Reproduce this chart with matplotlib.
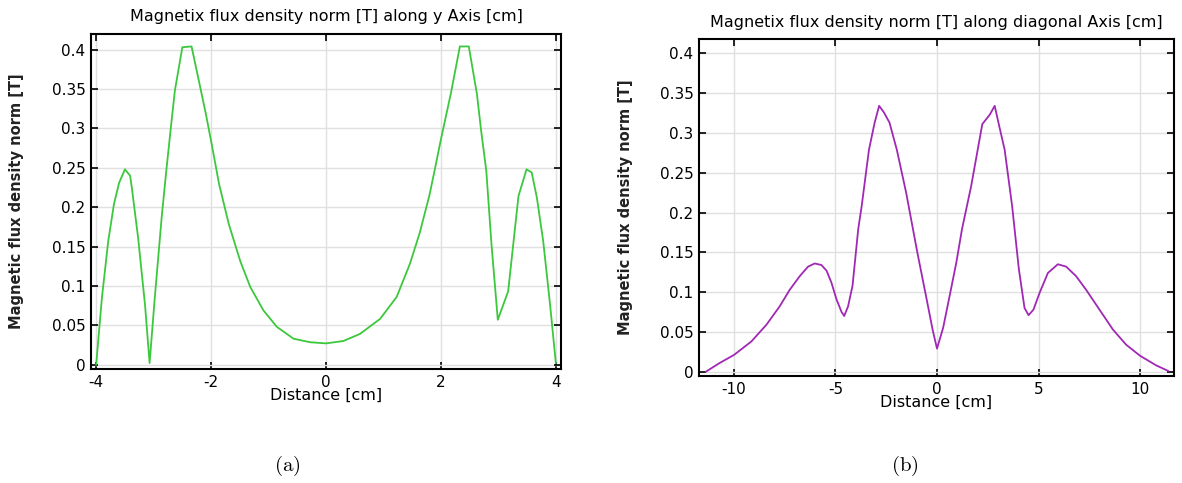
import matplotlib
matplotlib.use("Agg")
import matplotlib.pyplot as plt
import numpy as np

# along y axis (a)
y_dist = [-4.0, -3.90, -3.79, -3.69, -3.60, -3.50, -3.41, -3.38, -3.27, -3.15,
          -3.07, -2.98, -2.86, -2.78, -2.69, -2.63, -2.50, -2.34, -2.20, -2.09,
          -2.0, -1.86, -1.69, -1.49, -1.32, -1.09, -0.855, -0.566, -0.277, 0.0,
          0.30, 0.59, 0.94, 1.23, 1.46, 1.63, 1.80, 1.90, 2.0, 2.175, 2.33,
          2.485, 2.626, 2.70, 2.79, 2.88, 2.99, 3.17, 3.35, 3.49, 3.58,
          3.67, 3.78, 3.90, 4.0]
y_norm = [0.0, 0.085, 0.157, 0.204, 0.231, 0.248, 0.240, 0.225, 0.161, 0.076,
          0.002, 0.085, 0.187, 0.246, 0.308, 0.348, 0.403, 0.404, 0.356, 0.318,
          0.284, 0.229, 0.178, 0.131, 0.099, 0.069, 0.048, 0.033, 0.0285, 0.027,
          0.030, 0.039, 0.058, 0.086, 0.128, 0.167, 0.215, 0.250, 0.286, 0.345, 0.404,
          0.404, 0.344, 0.297, 0.246, 0.153, 0.057, 0.093, 0.214, 0.248, 0.244,
          0.212, 0.157, 0.076, 0.002]

# along diagonal (b)
d_dist = [-11.38, -10.7, -10.0, -9.14, -8.40, -7.75, -7.25, -6.76, -6.35, -6.02,
          -5.69, -5.44, -5.20, -4.95, -4.70, -4.57, -4.38, -4.16, -3.88, -3.71,
          -3.35, -3.07, -2.85, -2.62, -2.34, -1.98, -1.52, -0.97, -0.51, -0.21,
          0.0, 0.30, 0.62, 0.95, 1.23, 1.68, 2.23, 2.60, 2.84, 3.06,
          3.33, 3.70, 4.03, 4.31, 4.51, 4.75, 5.05, 5.46, 5.95, 6.36,
          6.85, 7.34, 8.0, 8.66, 9.31, 10.0, 10.79, 11.38]
d_norm = [0.0, 0.011, 0.021, 0.038, 0.059, 0.082, 0.103, 0.120, 0.132, 0.136,
          0.134, 0.127, 0.112, 0.091, 0.075, 0.070, 0.082, 0.108, 0.179, 0.208,
          0.279, 0.313, 0.334, 0.326, 0.313, 0.279, 0.225, 0.150, 0.091, 0.052,
          0.029, 0.055, 0.095, 0.137, 0.179, 0.233, 0.311, 0.323, 0.334, 0.309,
          0.279, 0.208, 0.129, 0.080, 0.071, 0.078, 0.099, 0.124, 0.135, 0.132,
          0.120, 0.103, 0.078, 0.053, 0.034, 0.020, 0.008, 0.001]

y_ticks = [0, 0.05, 0.1, 0.15, 0.2, 0.25, 0.3, 0.35, 0.4]
y_ticklabels = ['0', '0.05', '0.1', '0.15', '0.2', '0.25', '0.3', '0.35', '0.4']

plt.rcParams['mathtext.fontset'] = 'cm'

W, H = 1182, 483
fig = plt.figure(figsize=(W / 100, H / 100), dpi=100)

def style(ax, xticks, title):
    ax.set_yticks(y_ticks)
    ax.set_yticklabels(y_ticklabels)
    ax.set_xticks(xticks)
    ax.set_xticklabels([str(t) for t in xticks])
    ax.grid(True, color='#e0e0e0', linewidth=1.0)
    ax.set_axisbelow(True)
    ax.tick_params(direction='in', length=5, width=1.2, top=True, right=True,
                   labelsize=11, pad=4)
    for s in ax.spines.values():
        s.set_linewidth(1.5)
    ax.set_title(title, fontsize=11.5, pad=9)
    ax.set_xlabel('Distance [cm]', fontsize=11.5, labelpad=-1)
    ax.set_ylabel('Magnetic flux density norm [T]', fontsize=10.5, fontweight='bold',
                  color='#222222')

# (a)
ax1 = fig.add_axes([91 / W, 1 - 369 / H, (561 - 91) / W, (369 - 34) / H])
ax1.plot(y_dist, y_norm, color='#3cc83c', linewidth=1.3)
ax1.set_xlim(-4.09, 4.09)
ax1.set_ylim(-0.0055, 0.4198)
style(ax1, [-4, -2, 0, 2, 4], 'Magnetix flux density norm [T] along y Axis [cm]')
ax1.yaxis.set_label_coords(-0.142, 0.5)

# (b)
ax2 = fig.add_axes([699 / W, 1 - 376 / H, (1174 - 699) / W, (376 - 39) / H])
ax2.plot(d_dist, d_norm, color='#a028b4', linewidth=1.3)
ax2.set_xlim(-11.72, 11.67)
ax2.set_ylim(-0.0054, 0.418)
style(ax2, [-10, -5, 0, 5, 10], 'Magnetix flux density norm [T] along diagonal Axis [cm]')
ax2.yaxis.set_label_coords(-0.138, 0.5)

fig.text(287 / W, 1 - 466 / H, r'$\mathrm{(a)}$', fontsize=15, ha='center', va='center')
fig.text(905 / W, 1 - 466 / H, r'$\mathrm{(b)}$', fontsize=15, ha='center', va='center')

fig.savefig('out.png', dpi=100)
